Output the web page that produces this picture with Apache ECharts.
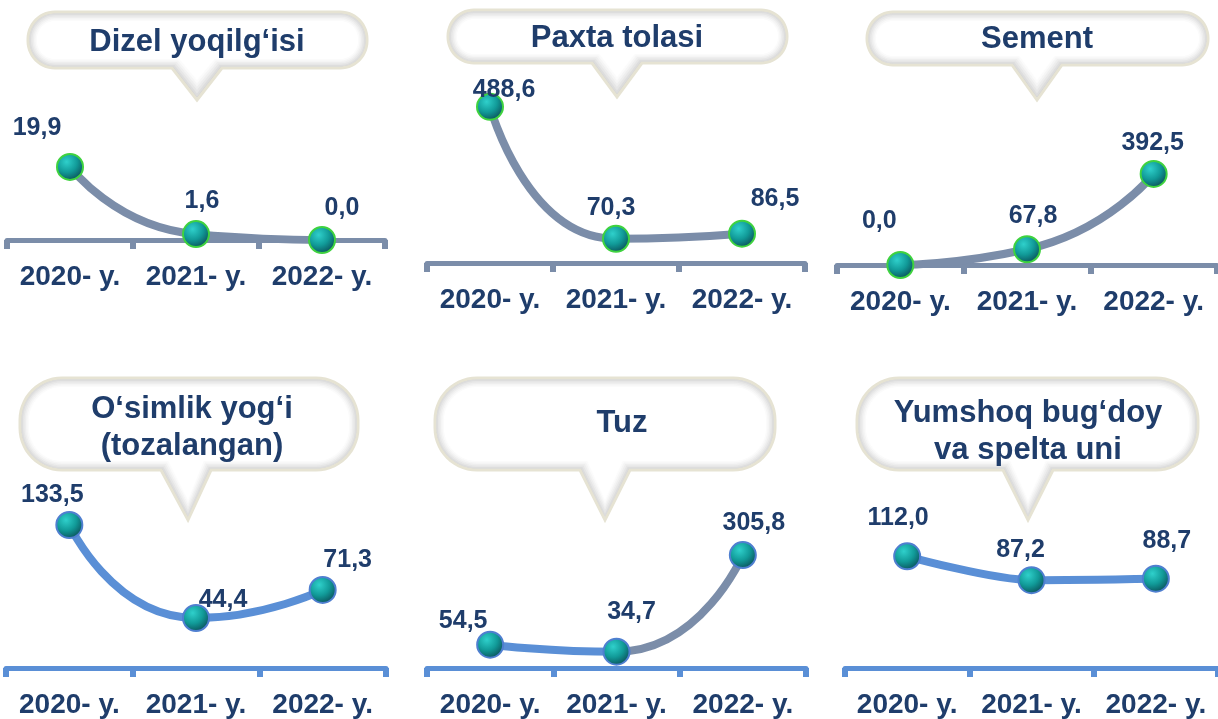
<!DOCTYPE html>
<html><head><meta charset="utf-8">
<script src="https://cdn.jsdelivr.net/npm/echarts@6/dist/echarts.min.js"></script>
<style>html,body{margin:0;padding:0;background:#fff}#c{width:1218px;height:719px}</style>
</head><body><div id="c"></div>
<script>
// ---------- data ----------
const categories = ['2020- y.', '2021- y.', '2022- y.'];
const titles = ['Dizel yoqilg‘isi', 'Paxta tolasi', 'Sement', 'O‘simlik yog‘i\n(tozalangan)', 'Tuz', 'Yumshoq bug‘doy\nva spelta uni'];
const dizel = [19.9, 1.6, 0.0];
const paxta = [488.6, 70.3, 86.5];
const sement = [0.0, 67.8, 392.5];
const osimlik = [133.5, 44.4, 71.3];
const tuz = [54.5, 34.7, 305.8];
const yumshoq = [112.0, 87.2, 88.7];
const seriesValues = [dizel, paxta, sement, osimlik, tuz, yumshoq];

// ---------- layout / style ----------
const GRAY = '#7b8da9', BLUE = '#5a8fd6', NAVY = '#1f3d6b';
const panels = [
  {grid:{left:7,width:378,top:100,height:140}, y:[0,38.1], axis:GRAY, line:GRAY, border:'#3fd23f', smooth:0.6,
   bubble:{x0:28,x1:367,y0:12,y1:68,r:27,tl:172,tr:222,tx:197,ty:100}, tx:197, ty:42,
   off:[[-33,-39],[6,-33],[20,-32]]},
  {grid:{left:427,width:378,top:80,height:183}, y:[-6.3,573.5], axis:GRAY, line:GRAY, border:'#3fd23f', smooth:0.6,
   bubble:{x0:448,x1:787,y0:10,y1:63,r:26,tl:592,tr:642,tx:617,ty:97}, tx:617, ty:38,
   off:[[14,-17],[-5,-31],[33,-35]]},
  {grid:{left:837,width:380,top:100,height:165}, y:[0,711], axis:GRAY, line:GRAY, border:'#3fd23f', smooth:0.6,
   bubble:{x0:867,x1:1208,y0:12,y1:65,r:26,tl:1012,tr:1062,tx:1037,ty:100}, tx:1037, ty:39,
   off:[[-21,-44],[6,-33],[-1,-31]]},
  {grid:{left:6,width:380,top:480,height:188}, y:[-3.5,176.6], axis:BLUE, line:BLUE, border:'#4f7fd0', smooth:0.6,
   bubble:{x0:20,x1:358,y0:378,y1:470,r:42,tl:161,tr:211,tx:188,ty:520}, tx:192, ty:428,
   off:[[-17,-30],[27,-18],[25,-30]]},
  {grid:{left:427,width:379,top:500,height:174}, y:[-11,460.5], axis:BLUE, line:'split', border:'#4f7fd0', smooth:0.6,
   bubble:{x0:435,x1:775,y0:378,y1:470,r:42,tl:580,tr:630,tx:605,ty:520}, tx:622, ty:423,
   off:[[-27,-24],[15,-40],[11,-32]]},
  {grid:{left:845,width:377,top:500,height:169}, y:[-4.1,170.5], axis:BLUE, line:BLUE, border:'#4f7fd0', smooth:0.3,
   bubble:{x0:857,x1:1198,y0:378,y1:470,r:42,tl:1003,tr:1053,tx:1028,ty:520}, tx:1028, ty:432,
   off:[[-9,-38],[-11,-30],[11,-38]]}
];

function bubblePoints(b, d) {
  const x0=b.x0+d, x1=b.x1-d, y0=b.y0+d, y1=b.y1-d, r=Math.max(b.r-d,2);
  const pts=[];
  const arc=(cx,cy,a0,a1)=>{for(let i=0;i<=14;i++){const a=a0+(a1-a0)*i/14; pts.push([cx+r*Math.cos(a), cy+r*Math.sin(a)]);}};
  arc(x1-r, y0+r, -Math.PI/2, 0);
  arc(x1-r, y1-r, 0, Math.PI/2);
  pts.push([b.tr - d*0.8, y1], [b.tx, b.ty - d*2.2], [b.tl + d*0.8, y1]);
  arc(x0+r, y1-r, Math.PI/2, Math.PI);
  arc(x0+r, y0+r, Math.PI, Math.PI*1.5);
  return pts;
}
const bubbleLayers = [[0,'#d4d4d4'],[1.5,'#dddddd'],[3,'#e6e6e6'],[4.5,'#eeeeee'],[6,'#f5f5f5'],[7.5,'#fbfbfb'],[9,'#ffffff']];

const markerFill = {type:'radial', x:0.38, y:0.32, r:0.75, colorStops:[
  {offset:0,color:'#2fd0cb'},{offset:0.5,color:'#119a98'},{offset:1,color:'#0a4650'}]};
const fmt = v => v.toFixed(1).replace('.', ',');

const grids=[], xAxes=[], yAxes=[], series=[], graphics=[];
panels.forEach((p,i)=>{
  grids.push(Object.assign({containLabel:false}, p.grid));
  xAxes.push({type:'category', gridIndex:i, data:categories, boundaryGap:true,
    axisLine:{show:true, onZero:false, lineStyle:{color:p.axis, width:5}},
    axisTick:{show:true, length:9, lineStyle:{color:p.axis, width:6}},
    splitLine:{show:false},
    axisLabel:{interval:0, margin:23, fontSize:28, fontWeight:'bold', color:NAVY,
      fontFamily:'"Liberation Sans", Arial, sans-serif'}});
  yAxes.push({type:'value', gridIndex:i, min:p.y[0], max:p.y[1], show:false, splitLine:{show:false}});
  const lineColor = p.line==='split'
    ? {type:'linear', x:0, y:0, x2:1, y2:0, colorStops:[{offset:0,color:BLUE},{offset:0.5,color:BLUE},{offset:0.5,color:GRAY},{offset:1,color:GRAY}]}
    : p.line;
  series.push({type:'line', xAxisIndex:i, yAxisIndex:i, clip:false, smooth:p.smooth,
    data: seriesValues[i].map((v,k)=>({value:v, label:{offset:p.off[k]}})),
    symbol:'circle', symbolSize:26, showSymbol:true,
    lineStyle:{color:lineColor, width:8},
    itemStyle:{color:markerFill, borderColor:p.border, borderWidth:2},
    label:{show:true, position:'inside', formatter:q=>fmt(q.value), fontSize:25, fontWeight:'bold', color:NAVY,
      fontFamily:'"Liberation Sans Narrow", "Arial Narrow", "Liberation Sans", sans-serif'},
    emphasis:{disabled:true}, animation:false});
  // bubble (layered for soft inner shading)
  bubbleLayers.forEach(([d,c],k)=>{
    graphics.push({type:'polygon', z:1+k, shape:{points:bubblePoints(p.bubble,d)},
      style: k===0 ? {fill:c, stroke:'#e6e3d3', lineWidth:3} : {fill:c}});
  });
  graphics.push({type:'text', z:20, x:p.tx, y:p.ty,
    style:{text:titles[i], fill:NAVY, font:'bold 31px "Liberation Sans", Arial, sans-serif',
      textAlign:'center', textVerticalAlign:'middle', align:'center', verticalAlign:'middle', lineHeight:37}});
});

const chart = echarts.init(document.getElementById('c'));
chart.setOption({animation:false, backgroundColor:'#fff', grid:grids, xAxis:xAxes, yAxis:yAxes, series:series, graphic:{elements:graphics}});
</script></body></html>
